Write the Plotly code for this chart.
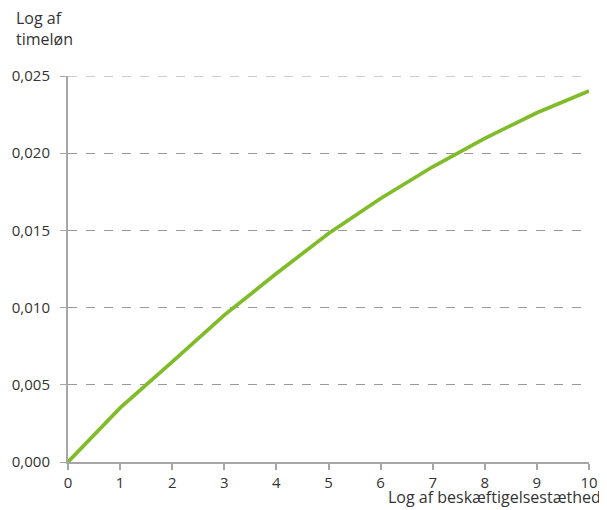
import plotly.graph_objects as go

x_vals = [0, 1, 2, 3, 4, 5, 6, 7, 8, 9, 10]
y_vals = [0.0, 0.0035, 0.00648, 0.00951, 0.01221, 0.0148, 0.01707, 0.01912, 0.02096, 0.02262, 0.02403]
y_ticks = [0.0, 0.005, 0.010, 0.015, 0.020, 0.025]
y_tick_labels = ["0,000", "0,005", "0,010", "0,015", "0,020", "0,025"]
x_ticks = list(range(0, 11))

W, H = 599, 502
L, R, T, B = 60, 18, 68, 48
PW, PH = W - L - R, H - T - B

fig = go.Figure()
fig.add_trace(go.Scatter(x=x_vals, y=y_vals, mode="lines",
                         line=dict(color="#80BC2A", width=3.7), showlegend=False))

fig.update_layout(
    width=W, height=H,
    margin=dict(l=L, r=R, t=T, b=B, autoexpand=False),
    paper_bgcolor="white", plot_bgcolor="white",
    font=dict(family="Open Sans", size=15, color="#333333"),
)
fig.update_xaxes(range=[0, 10], tickvals=x_ticks, showgrid=False, zeroline=False,
                 showline=True, linecolor="#a6a6a6", linewidth=2,
                 ticks="outside", ticklen=6, tickcolor="#a6a6a6", tickwidth=1.5,
                 tickfont=dict(size=15, color="#333333"))
fig.update_yaxes(range=[0, 0.025], tickvals=y_ticks, ticktext=y_tick_labels,
                 showgrid=True, gridcolor="#999999", griddash="dash", gridwidth=1,
                 zeroline=False, showline=True, linecolor="#a6a6a6", linewidth=2,
                 ticks="outside", ticklen=6, tickcolor="#a6a6a6", tickwidth=1,
                 ticklabelstandoff=7,
                 tickfont=dict(size=15, color="#333333"))

# top gridline (hidden by plotly at the range edge)
fig.add_shape(type="line", xref="paper", yref="y", x0=0, x1=1,
              y0=y_ticks[-1], y1=y_ticks[-1],
              line=dict(color="#999999", width=1, dash="dash"), layer="below")

fig.add_annotation(text="Log af<br>timeløn", xref="paper", yref="paper",
                   x=(7 - L) / PW, y=1 + T / PH, xanchor="left", yanchor="top",
                   showarrow=False, align="left", xshift=-1, yshift=3,
                   font=dict(size=16, color="#333333"))
fig.add_annotation(text="Log af beskæftigelsestæthed", xref="paper", yref="paper",
                   x=(595 - L) / PW, y=-46 / PH, xanchor="right", yanchor="bottom",
                   showarrow=False, yshift=-2,
                   font=dict(size=16, color="#333333"))

fig.write_html("out.html")
